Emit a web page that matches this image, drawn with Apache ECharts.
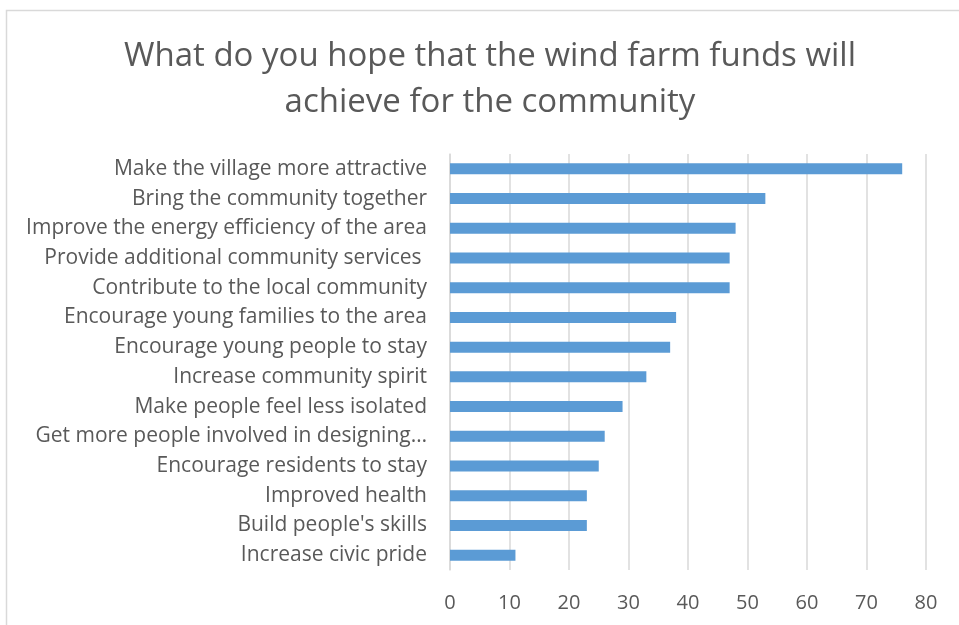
<!DOCTYPE html>
<html>
<head>
<meta charset="utf-8">
<script src="https://cdn.jsdelivr.net/npm/echarts@6/dist/echarts.min.js"></script>
<style>html,body{margin:0;padding:0;background:#fff;}#c{width:959px;height:625px;}</style>
</head>
<body>
<div id="c"></div>
<script>
const titleText = 'What do you hope that the wind farm funds will\nachieve for the community';
const categories = [
  'Make the village more attractive',
  'Bring the community together',
  'Improve the energy efficiency of the area',
  'Provide additional community services ',
  'Contribute to the local community',
  'Encourage young families to the area',
  'Encourage young people to stay',
  'Increase community spirit',
  'Make people feel less isolated',
  'Get more people involved in designing…',
  'Encourage residents to stay',
  'Improved health',
  "Build people's skills",
  'Increase civic pride'
];
const values = [76, 53, 48, 47, 47, 38, 37, 33, 29, 26, 25, 23, 23, 11];
const xTicks = { min: 0, max: 80, interval: 10 };

const chart = echarts.init(document.getElementById('c'), null, { renderer: 'canvas' });
chart.setOption({
  animation: false,
  backgroundColor: '#ffffff',
  graphic: [{
    type: 'rect', shape: { x: 6.5, y: 10.5, width: 1200, height: 1200 },
    style: { fill: 'none', stroke: '#d9d9d9', lineWidth: 1.5 }, silent: true
  }],
  title: {
    text: titleText, left: 485, top: 29, textAlign: 'center',
    textStyle: { fontFamily: 'Open Sans', fontSize: 33, fontWeight: 'normal', color: '#595959', lineHeight: 46 }
  },
  grid: { left: 450, right: 33, top: 154, bottom: 55, containLabel: false },
  xAxis: {
    type: 'value', min: xTicks.min, max: xTicks.max, interval: xTicks.interval,
    axisLine: { show: false }, axisTick: { show: false },
    axisLabel: { color: '#595959', fontFamily: 'Open Sans', fontSize: 20, margin: 23 },
    splitLine: { lineStyle: { color: '#d9d9d9', width: 1.5 } }
  },
  yAxis: {
    type: 'category', data: categories, inverse: true,
    axisLine: { show: true, lineStyle: { color: '#d9d9d9', width: 1.5 } },
    axisTick: { show: false },
    axisLabel: { color: '#595959', fontFamily: 'Open Sans', fontSize: 21, margin: 23 }
  },
  series: [{
    type: 'bar', data: values, barWidth: 11,
    itemStyle: { color: '#5b9bd5' }
  }]
});
</script>
</body>
</html>
